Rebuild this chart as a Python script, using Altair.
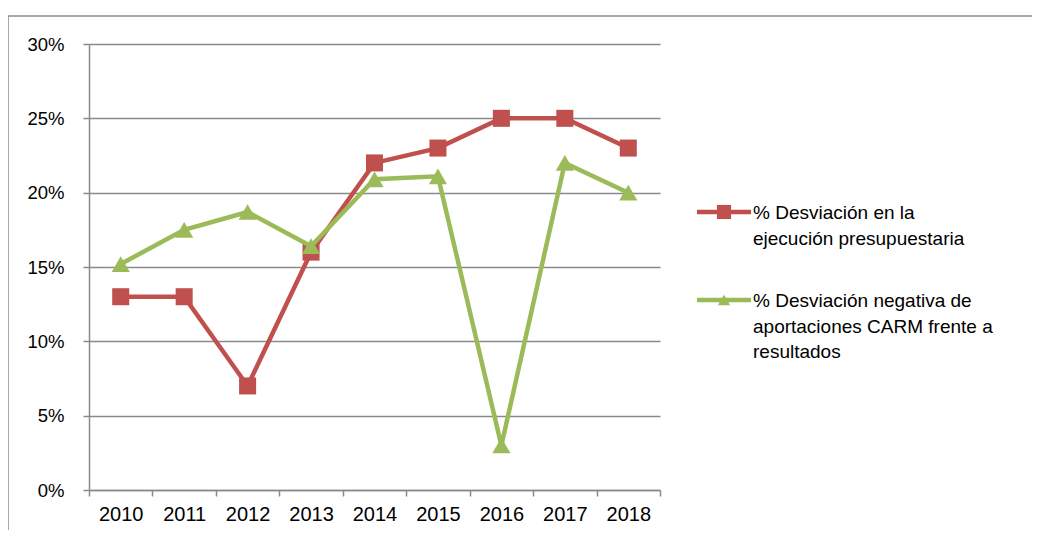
import altair as alt
import pandas as pd

years = [2010, 2011, 2012, 2013, 2014, 2015, 2016, 2017, 2018]
desv_ejecucion = [0.13, 0.13, 0.07, 0.16, 0.22, 0.23, 0.25, 0.25, 0.23]
desv_aportaciones = [0.152, 0.175, 0.187, 0.164, 0.209, 0.211, 0.03, 0.22, 0.20]
serie_1 = "% Desviación en la ejecución presupuestaria"
serie_2 = "% Desviación negativa de aportaciones CARM frente a resultados"
legend_1 = ["% Desviación en la", "ejecución presupuestaria"]
legend_2 = ["% Desviación negativa de", "aportaciones CARM frente a", "resultados"]
y_ticks = [0, 0.05, 0.10, 0.15, 0.20, 0.25, 0.30]
x_bounds = [y - 0.5 for y in years] + [years[-1] + 0.5]

RED = "#C0504D"
GREEN = "#9BBB59"
GRID = "#8a8a8a"
FONT = "Liberation Sans"

W, H = 571, 446

df1 = pd.DataFrame({"year": years, "value": desv_ejecucion, "serie": serie_1})
df2 = pd.DataFrame({"year": years, "value": desv_aportaciones, "serie": serie_2})

xscale = alt.Scale(domain=[years[0] - 0.5, years[-1] + 0.5], nice=False, zero=False)
yscale = alt.Scale(domain=[0, 0.30], nice=False)

x_axis = alt.Axis(
    values=x_bounds, title=None, grid=False, domain=True, domainColor=GRID,
    domainWidth=1.5, ticks=True, tickColor=GRID, tickWidth=1.5, tickSize=6,
    labelExpr="datum.value > %d ? '' : toString(datum.value + 0.5)" % years[-1],
    labelOffset=W / len(years) / 2, labelFont=FONT, labelFontSize=20,
    labelColor="black", labelPadding=8, labelAlign="center", labelFlush=False,
    labelOverlap=False,
)
y_axis = alt.Axis(
    values=y_ticks, format=".0%", title=None, grid=True, gridColor=GRID,
    gridWidth=1.5, domain=True, domainColor=GRID, domainWidth=1.5,
    ticks=True, tickColor=GRID, tickWidth=1.5, tickSize=6,
    labelFont=FONT, labelFontSize=18.5, labelColor="black", labelPadding=19,
)

def series(df, color, shape, size):
    x = alt.X("year:Q", scale=xscale, axis=x_axis)
    y = alt.Y("value:Q", scale=yscale, axis=y_axis)
    line = alt.Chart(df).mark_line(color=color, strokeWidth=4.5).encode(x=x, y=y)
    pts = alt.Chart(df).mark_point(
        shape=shape, filled=True, color=color, size=size, opacity=1
    ).encode(x=x, y=y)
    return line + pts

red = series(df1, RED, "square", 290)
green = series(df2, GREEN, "triangle-up", 330)

# custom legend
leg_df1 = pd.DataFrame({"serie": [serie_1]})
leg_df2 = pd.DataFrame({"serie": [serie_2]})

def legend_entry(df, color, shape, size, lines, ymid):
    base = alt.Chart(df)
    line = base.mark_rule(color=color, strokeWidth=4.5).encode(
        x=alt.value(608), x2=alt.value(662), y=alt.value(ymid)
    )
    pt = base.mark_point(shape=shape, filled=True, color=color, size=size, opacity=1).encode(
        x=alt.value(635), y=alt.value(ymid)
    )
    txt = base.mark_text(
        text=lines, align="left", baseline="alphabetic", font=FONT, fontSize=19,
        lineHeight=25.5, color="black"
    ).encode(x=alt.value(664), y=alt.value(ymid + 7))
    return line + pt + txt

leg1 = legend_entry(leg_df1, RED, "square", 200, legend_1, 168)
leg2 = legend_entry(leg_df2, GREEN, "triangle-up", 150, legend_2, 256)

# outer frame (partially visible border of the original chart area)
frame_df = pd.DataFrame({"f": [0]})
frame_left = alt.Chart(frame_df).mark_rule(color="#8c8c8c", strokeWidth=1.5).encode(
    x=alt.value(-81), y=alt.value(-28), y2=alt.value(500)
)
frame_top = alt.Chart(frame_df).mark_rule(color="#8c8c8c", strokeWidth=1.5).encode(
    x=alt.value(-81), x2=alt.value(960), y=alt.value(-28)
)

chart = alt.layer(red, green, leg1, leg2, frame_left, frame_top).properties(
    width=W, height=H,
    autosize=alt.AutoSizeParams(type="none"),
    padding={"left": 81, "top": 36, "right": 372, "bottom": 40},
    background="white",
).configure_view(strokeWidth=0)

chart.save("out.html", embed_options={"renderer": "svg", "actions": False})
